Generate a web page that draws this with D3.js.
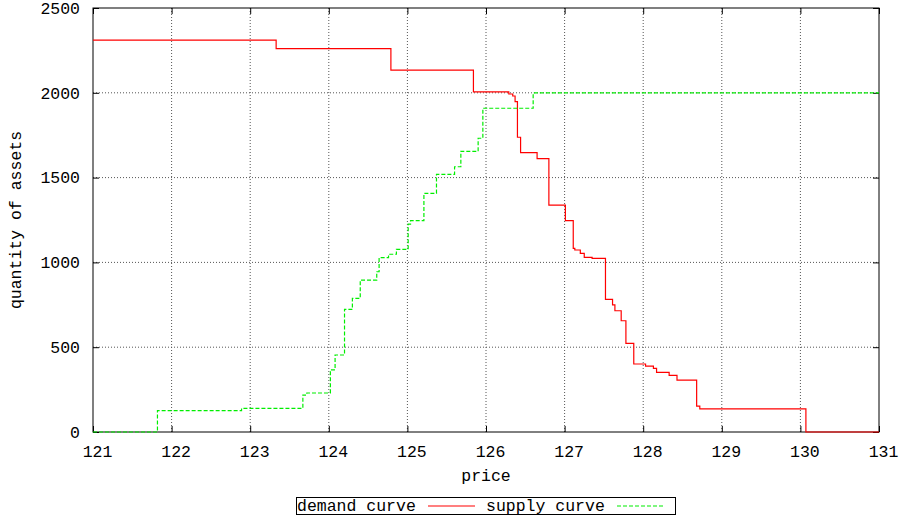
<!doctype html>
<html>
<head>
  <meta charset="utf-8">
  <script src="https://d3js.org/d3.v7.min.js"></script>
  <style>
    body { margin: 0; background: #fff; }
    text { font-family: "Liberation Mono", "DejaVu Sans Mono", monospace; font-size: 16.5px; fill: #000; }
  </style>
</head>
<body>
  <svg width="899" height="520"></svg>
  <script>
    // step data: quantity holds from this price until the next price
    var demandPrice = [121, 123.33, 124.79, 125.84, 126.29, 126.34, 126.37, 126.40, 126.44, 126.65, 126.80, 127.01, 127.11, 127.13, 127.20, 127.25, 127.35, 127.52, 127.61, 127.64, 127.72, 127.78, 127.88, 128.03, 128.13, 128.17, 128.33, 128.43, 128.68, 128.72, 130.07, 131]
    var demandQty = [2311, 2260, 2134, 2005, 1993, 1981, 1948, 1738, 1647, 1612, 1338, 1246, 1083, 1073, 1053, 1030, 1024, 782, 749, 715, 656, 523, 401, 389, 375, 352, 334, 306, 153, 136, 0, 0]

    var supplyPrice = [121, 121.82, 122.89, 123.67, 123.72, 124.02, 124.08, 124.20, 124.30, 124.40, 124.61, 124.64, 124.76, 124.86, 125.01, 125.04, 125.21, 125.37, 125.60, 125.68, 125.90, 125.96, 126.60, 131]
    var supplyQty = [0, 126, 139, 218, 230, 366, 454, 723, 788, 896, 945, 1028, 1048, 1077, 1226, 1246, 1407, 1519, 1564, 1655, 1732, 1909, 2000, 2000]

    var xTicks = [121, 122, 123, 124, 125, 126, 127, 128, 129, 130, 131]
    var yTicks = [0, 500, 1000, 1500, 2000, 2500]

    var pLeft = 93, pRight = 879, pTop = 8, pBottom = 432

    var svg = d3.select("svg")

    var x = d3.scaleLinear().domain([121, 131]).range([pLeft, pRight])
    var y = d3.scaleLinear().domain([0, 2500]).range([pBottom, pTop])

    // grid
    svg.append("g").selectAll("line").data(xTicks.slice(1, -1)).enter().append("line")
      .attr("x1", function(d) { return x(d) }).attr("x2", function(d) { return x(d) })
      .attr("y1", pTop).attr("y2", pBottom)
      .attr("stroke", "#555").attr("stroke-width", 1).attr("stroke-dasharray", "1,2")
    svg.append("g").selectAll("line").data(yTicks.slice(1, -1)).enter().append("line")
      .attr("y1", function(d) { return y(d) }).attr("y2", function(d) { return y(d) })
      .attr("x1", pLeft).attr("x2", pRight)
      .attr("stroke", "#555").attr("stroke-width", 1).attr("stroke-dasharray", "1,2")

    // axes (ticks inward, mirrored)
    var xAxis = d3.axisBottom(x).tickValues(xTicks).tickSizeInner(-6).tickSizeOuter(0).tickPadding(13).tickFormat(d3.format("d"))
    var yAxis = d3.axisLeft(y).tickValues(yTicks).tickSizeInner(-6).tickSizeOuter(0).tickPadding(13).tickFormat(d3.format("d"))

    var gx = svg.append("g").attr("transform", "translate(0," + pBottom + ")").call(xAxis)
    var gy = svg.append("g").attr("transform", "translate(" + pLeft + ",0)").call(yAxis)
    svg.append("g").attr("transform", "translate(0," + pTop + ")")
      .call(d3.axisTop(x).tickValues(xTicks).tickSizeInner(-6).tickSizeOuter(0).tickFormat(""))
    svg.append("g").attr("transform", "translate(" + pRight + ",0)")
      .call(d3.axisRight(y).tickValues(yTicks).tickSizeInner(-6).tickSizeOuter(0).tickFormat(""))
    svg.selectAll(".domain").remove()
    svg.selectAll(".tick line").attr("stroke", "#000")
    gx.selectAll("text").style("font-size", "16.5px").style("font-family", "Liberation Mono").attr("fill", "#000").attr("dx", 4)
    gy.selectAll("text").style("font-size", "16.5px").style("font-family", "Liberation Mono").attr("fill", "#000")

    svg.append("rect").attr("x", pLeft).attr("y", pTop)
      .attr("width", pRight - pLeft).attr("height", pBottom - pTop)
      .attr("fill", "none").attr("stroke", "#000").attr("stroke-width", 1)

    // curves
    var line = d3.line()
      .x(function(d) { return x(d[0]) })
      .y(function(d) { return y(d[1]) })
      .curve(d3.curveStepAfter)

    svg.append("path")
      .datum(demandPrice.map(function(p, i) { return [p, demandQty[i]] }))
      .attr("d", line)
      .attr("fill", "none").attr("stroke", "#ff0000").attr("stroke-width", 1.2)

    svg.append("path")
      .datum(supplyPrice.map(function(p, i) { return [p, supplyQty[i]] }))
      .attr("d", line)
      .attr("fill", "none").attr("stroke", "#00ee00").attr("stroke-width", 1.2)
      .attr("stroke-dasharray", "4,2")

    // axis labels
    svg.append("text").attr("x", (pLeft + pRight) / 2).attr("y", 481)
      .attr("text-anchor", "middle").text("price")
    svg.append("text").attr("transform", "translate(21," + ((pTop + pBottom) / 2) + ") rotate(-90)")
      .attr("text-anchor", "middle").text("quantity of assets")

    // legend
    svg.append("rect").attr("x", 296.5).attr("y", 497.5).attr("width", 379).attr("height", 17)
      .attr("fill", "none").attr("stroke", "#000").attr("stroke-width", 1)
    svg.append("text").attr("x", 297).attr("y", 511).text("demand curve")
    svg.append("line").attr("x1", 428).attr("x2", 475).attr("y1", 506).attr("y2", 506)
      .attr("stroke", "#ff0000").attr("stroke-width", 1.2)
    svg.append("text").attr("x", 486).attr("y", 511).text("supply curve")
    svg.append("line").attr("x1", 617).attr("x2", 665).attr("y1", 506).attr("y2", 506)
      .attr("stroke", "#00ee00").attr("stroke-width", 1.2).attr("stroke-dasharray", "4,2")
  </script>
</body>
</html>
